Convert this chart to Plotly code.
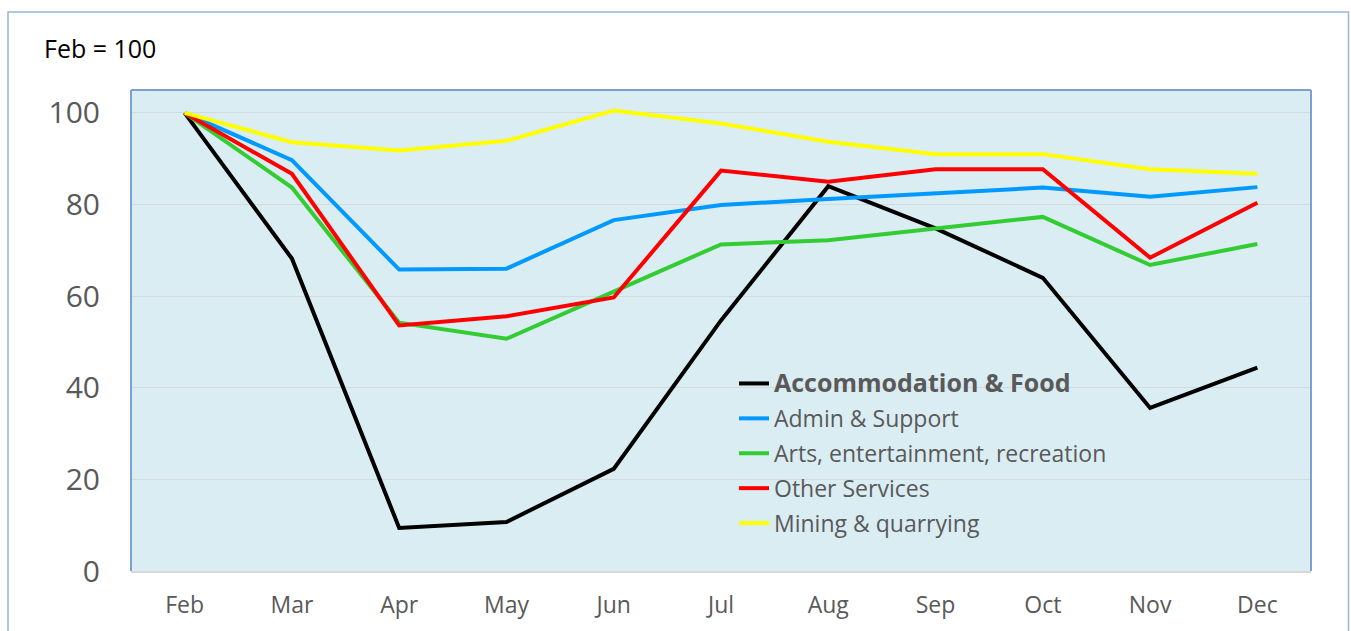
import plotly.graph_objects as go

months = ["Feb", "Mar", "Apr", "May", "Jun", "Jul", "Aug", "Sep", "Oct", "Nov", "Dec"]

accommodation_food = [100, 68.2, 9.4, 10.7, 22.3, 54.7, 84.0, 74.8, 64.0, 35.6, 44.4]
admin_support = [100, 89.7, 65.8, 66.0, 76.6, 79.9, 81.2, 82.4, 83.7, 81.7, 83.8]
arts_entertainment = [100, 83.7, 54.2, 50.7, 61.0, 71.3, 72.2, 74.8, 77.3, 66.8, 71.4]
other_services = [100, 86.7, 53.6, 55.6, 59.7, 87.4, 85.0, 87.7, 87.7, 68.4, 80.4]
mining_quarrying = [100, 93.6, 91.8, 93.9, 100.5, 97.7, 93.7, 91.0, 91.0, 87.7, 86.7]

series = [
    ("<span style='font-size:25px'><b>Accommodation & Food</b></span>", accommodation_food, "#000000"),
    ("Admin & Support", admin_support, "#0099FF"),
    ("Arts, entertainment, recreation", arts_entertainment, "#33CC33"),
    ("Other Services", other_services, "#FF0000"),
    ("Mining & quarrying", mining_quarrying, "#FFFF00"),
]

W, H = 1351, 631
L, R, T, B = 131, 1311, 90, 571
pw, ph = R - L, B - T

fig = go.Figure()
for i, (name, vals, col) in enumerate(series):
    fig.add_trace(go.Scatter(
        x=months, y=vals, name=name, mode="lines",
        line=dict(color=col, width=4),
        legendgroup=f"g{i}",
    ))

def px(x):
    return (x - L) / pw

def py(y):
    return (B - y) / ph

shapes = [
    dict(type="rect", xref="paper", yref="paper",
         x0=px(8), x1=px(1348.5), y0=py(660), y1=py(12),
         line=dict(color="#9BB4DA", width=1.5), fillcolor="rgba(0,0,0,0)", layer="below"),
    dict(type="line", xref="paper", yref="paper", x0=0, x1=0, y0=0, y1=1,
         line=dict(color="#7DA0D4", width=2)),
    dict(type="line", xref="paper", yref="paper", x0=0, x1=1, y0=1, y1=1,
         line=dict(color="#7DA0D4", width=2)),
    dict(type="line", xref="paper", yref="paper", x0=1, x1=1, y0=0, y1=1,
         line=dict(color="#7DA0D4", width=2)),
]

fig.update_layout(
    width=W, height=H,
    margin=dict(l=L, r=W - R, t=T, b=H - B, pad=0),
    paper_bgcolor="white",
    plot_bgcolor="#DAEDF3",
    font=dict(family="Open Sans, sans-serif", color="#595959"),
    showlegend=True,
    legend=dict(
        x=px(734), y=py(362), xanchor="left", yanchor="top",
        bgcolor="rgba(0,0,0,0)",
        font=dict(size=23, color="#595959", family="Open Sans, sans-serif"),
        tracegroupgap=2,
        itemwidth=30,
    ),
    shapes=shapes,
    annotations=[dict(
        text="Feb = 100", xref="paper", yref="paper",
        x=px(42), y=py(48), xanchor="left", yanchor="middle",
        showarrow=False, font=dict(size=25, color="#000000", family="Open Sans, sans-serif"),
    )],
    xaxis=dict(
        type="category", range=[-0.5, 10.5],
        showgrid=False, zeroline=False,
        showline=True, linecolor="#D9D9D9", linewidth=1.5,
        ticks="", tickfont=dict(size=23, color="#595959"),
        ticklabelstandoff=13,
    ),
    yaxis=dict(
        range=[0, 105], tickvals=[0, 20, 40, 60, 80, 100],
        showgrid=True, gridcolor="#D4D9DC", gridwidth=1.2,
        zeroline=False, showline=False,
        ticks="", tickfont=dict(size=30, color="#595959"),
        ticklabelstandoff=30,
    ),
)

fig.write_html(
    "out.html",
    config={"displayModeBar": False},
    post_script="document.body.style.margin='0';document.body.style.padding='0';document.documentElement.style.overflow='hidden';",
)
